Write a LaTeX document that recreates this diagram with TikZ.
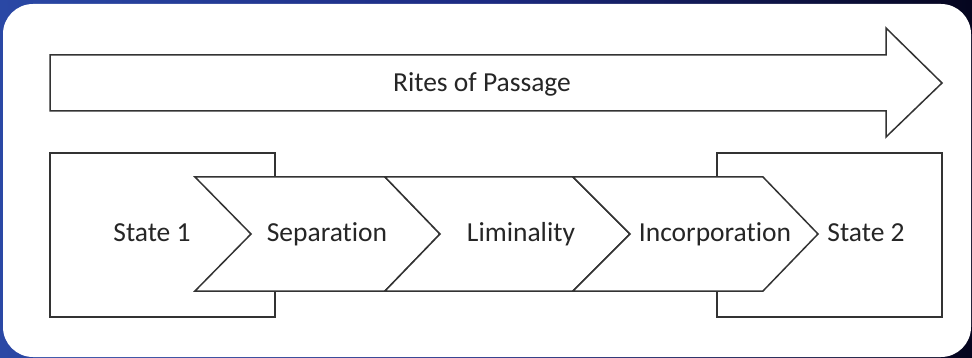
\documentclass[tikz,border=0pt]{standalone}
\usepackage{fontspec}
\setmainfont[Ligatures=NoCommon]{Carlito}
\begin{document}
\begin{tikzpicture}[x=1pt,y=-1pt,
  outline/.style={draw=black!80,line width=1.5pt,fill=white,line join=miter},
  lbl/.style={font=\fontsize{27.5}{30}\selectfont,text=black!85,inner sep=0pt,anchor=base}]
\useasboundingbox (0,0) rectangle (972,358);
% background
\shade[left color={rgb,255:red,42;green,72;blue,165},right color={rgb,255:red,5;green,5;blue,30},middle color={rgb,255:red,28;green,42;blue,130}] (0,0) rectangle (972,358);
\fill[white,rounded corners=30pt] (3,4) rectangle (971,357);
% big arrow
\draw[outline] (50,55) -- (886,55) -- (886,28) -- (942,83) -- (886,137) -- (886,111) -- (50,111) -- cycle;
\node[lbl] (rites) at (482,92) {Rites of Passage};
% state boxes
\draw[outline] (50,153) rectangle (275,317);
\draw[outline] (717,153) rectangle (942,317);
% chevrons
\draw[outline] (195,177) -- (385,177) -- (440,234) -- (385,291) -- (195,291) -- (251,234) -- cycle;
\draw[outline] (385,177) -- (573,177) -- (630,234) -- (573,291) -- (385,291) -- (440,234) -- cycle;
\draw[outline] (573,177) -- (763,177) -- (818,234) -- (763,291) -- (573,291) -- (630,234) -- cycle;
\node[lbl] (s1) at (152,242) {State 1};
\node[lbl] (sep) at (327,242) {Separation};
\node[lbl] (lim) at (521,242) {Liminality};
\node[lbl] (inc) at (715,242) {Incorporation};
\node[lbl] (s2) at (866,242) {State 2};
\end{tikzpicture}
\end{document}
